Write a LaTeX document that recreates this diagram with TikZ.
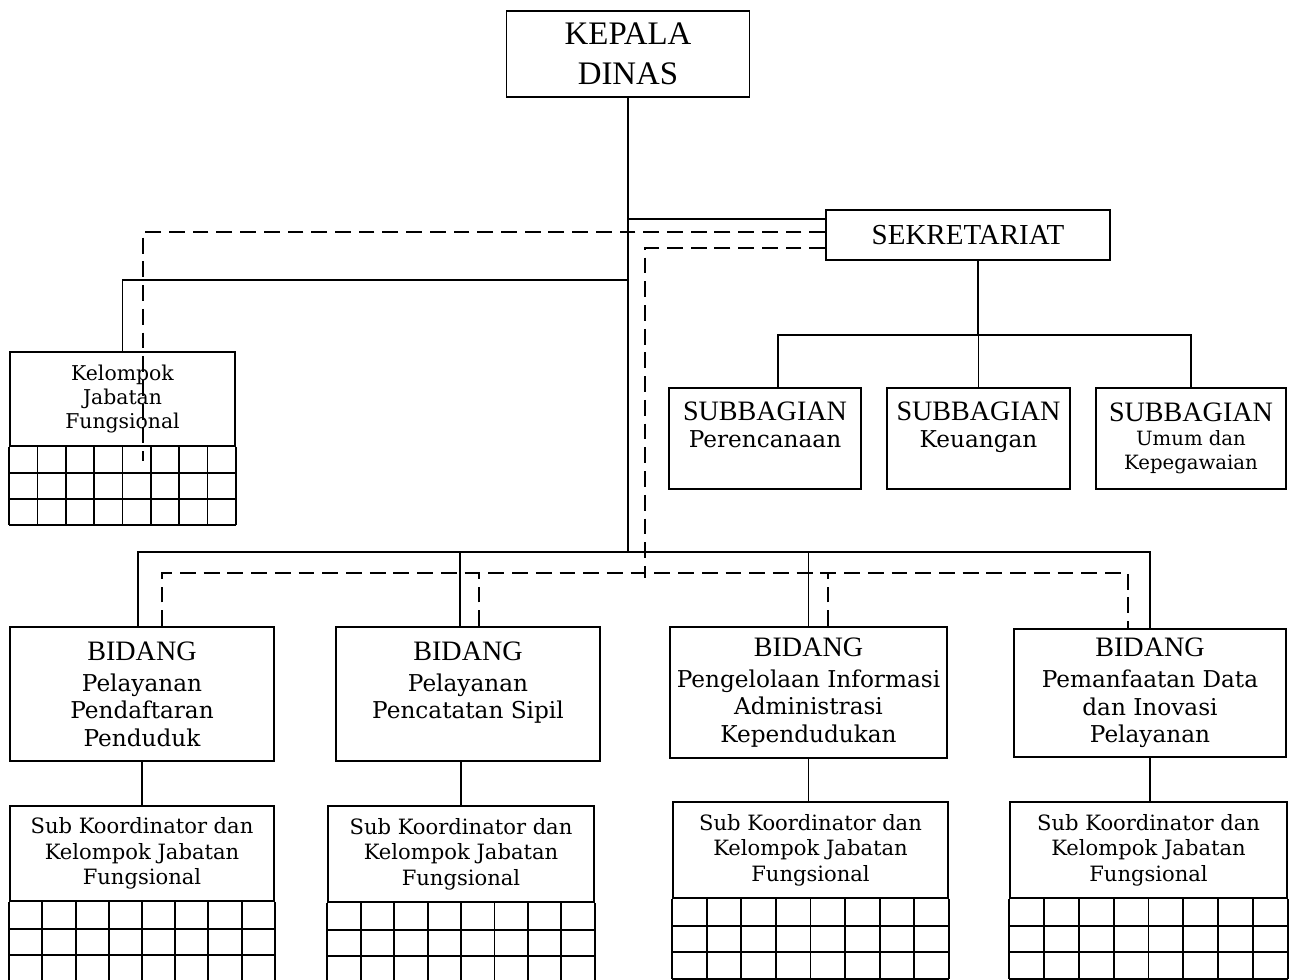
\documentclass[tikz,border=0pt]{standalone}
\usepackage{fontspec}
\setmainfont{Liberation Serif}
\newfontfamily\bookfont{DejaVu Serif}
\usetikzlibrary{positioning, calc}
\newcommand{\headfont}{\fontsize{18.7}{22.7}\selectfont}
\newcommand{\sekfont}{\fontsize{16.5}{19}\selectfont}
\newcommand{\capsfont}{\fontsize{16}{19}\selectfont}
\newcommand{\unitfont}{\bookfont\fontsize{13.2}{15.6}\selectfont}
\newcommand{\smallunitfont}{\bookfont\fontsize{11.2}{13.5}\selectfont}
\newcommand{\groupfont}{\bookfont\fontsize{12}{14.6}\selectfont}
\newcommand{\kjffont}{\bookfont\fontsize{11.6}{13.9}\selectfont}
\tikzstyle{unit} = [rectangle, draw=black, line width=1pt, align=center, inner sep=0pt, text centered]
\tikzstyle{link} = [line width=1pt]
\tikzstyle{staff} = [line width=1pt, dash pattern=on 9pt off 4.5pt]
\tikzstyle{gridline} = [line width=1.1pt]

\begin{document}
\begin{tikzpicture}[x=0.02cm, y=-0.02cm]
\useasboundingbox (0,0) rectangle (1289,980);

% head and secretariat
\node (kepala) [unit, minimum width=4.86cm, minimum height=1.72cm, font=\headfont] at (628,54) {KEPALA\\DINAS};
\node (sek) [unit, minimum width=5.68cm, minimum height=1.0cm, font=\sekfont] at (968,235) {SEKRETARIAT};

% subbagian row
\node (sb1) [unit, minimum width=3.84cm, minimum height=2.02cm, font=\unitfont] at (765,438.5) {{\capsfont\rmfamily SUBBAGIAN}\\Perencanaan\\\mbox{}};
\node (sb2) [unit, minimum width=3.66cm, minimum height=2.02cm, font=\unitfont] at (978.5,438.5) {{\capsfont\rmfamily SUBBAGIAN}\\Keuangan\\\mbox{}};
\node (sb3) [unit, minimum width=3.8cm, minimum height=2.02cm, font=\smallunitfont] at (1191,438.5) {{\capsfont\rmfamily SUBBAGIAN}\\Umum dan\\Kepegawaian};

% functional group
\node (kjf) [unit, minimum width=4.5cm, minimum height=1.88cm, font=\kjffont] at (122.5,399) {Kelompok\\Jabatan\\Fungsional};

% bidang row
\node (bid1) [unit, minimum width=5.28cm, minimum height=2.68cm, font=\unitfont] at (142,694) {{\capsfont\rmfamily BIDANG}\\[2pt]Pelayanan\\Pendaftaran\\Penduduk};
\node (bid2) [unit, minimum width=5.28cm, minimum height=2.68cm, font=\unitfont] at (468,694) {{\capsfont\rmfamily BIDANG}\\[2pt]Pelayanan\\Pencatatan Sipil\\\mbox{}};
\node (bid3) [unit, minimum width=5.54cm, minimum height=2.62cm, font=\unitfont] at (808.5,692.5) {{\capsfont\rmfamily BIDANG}\\[2pt]Pengelolaan Informasi\\Administrasi\\Kependudukan};
\node (bid4) [unit, minimum width=5.44cm, minimum height=2.56cm, font=\unitfont] at (1150,693) {{\capsfont\rmfamily BIDANG}\\[2pt]Pemanfaatan Data\\dan Inovasi\\Pelayanan};

% sub koordinator boxes
\node (sub1) [unit, minimum width=5.28cm, minimum height=1.9cm, font=\groupfont] at (142,853.5) {Sub Koordinator dan\\Kelompok Jabatan\\Fungsional};
\node (sub2) [unit, minimum width=5.32cm, minimum height=1.92cm, font=\groupfont] at (461,854) {Sub Koordinator dan\\Kelompok Jabatan\\Fungsional};
\node (sub3) [unit, minimum width=5.5cm, minimum height=1.92cm, font=\groupfont] at (810.5,850) {Sub Koordinator dan\\Kelompok Jabatan\\Fungsional};
\node (sub4) [unit, minimum width=5.54cm, minimum height=1.92cm, font=\groupfont] at (1148.5,850) {Sub Koordinator dan\\Kelompok Jabatan\\Fungsional};

% grids under the groups
\foreach \g/\d in {kjf/78, sub1/80, sub2/80, sub3/80, sub4/80} {
  \foreach \i in {0,...,8}
    \draw [gridline] ($(\g.south west)!\i/8!(\g.south east)$) -- ++(0,\d);
  \foreach \j in {1,2,3}
    \draw [gridline] ($(\g.south west)+(0,\j*\d/3)$) -- ($(\g.south east)+(0,\j*\d/3)$);
}

\coordinate (hub) at (628,552);
\coordinate (split) at (628,280);
\coordinate (dhub) at (645,573);
\coordinate (sbus) at (978,335);

% solid lines (command)
\draw [link] (kepala.south) -- (hub);
\draw [link] ([yshift=0.32cm]sek.west) -- ([yshift=0.32cm]sek.west -| hub);
\draw [link] (split) -| (kjf.north);
\draw [link] ([xshift=-0.08cm]bid1.north) |- (hub) -| (bid4.north);
\draw [link] ([xshift=-0.16cm]bid2.north) -- ([xshift=-0.16cm]bid2.north |- hub);
\draw [link] (bid3.north) -- (bid3.north |- hub);
\draw [link] (sbus |- sek.south) -- (sbus);
\draw [link] ([xshift=0.26cm]sb1.north) |- (sbus) -| (sb3.north);
\draw [link] (sb2.north) -- (sb2.north |- sbus);
\draw [link] (bid1.south) -- (sub1.north);
\draw [link] (sub2.north) -- (sub2.north |- bid2.south);
\draw [link] (bid3.south) -- (bid3.south |- sub3.north);
\draw [link] (bid4.south) -- (bid4.south |- sub4.north);

% dashed lines (coordination)
\draw [staff] ([yshift=0.06cm]sek.west) -| ([xshift=0.41cm]kjf.north) -- ++(0,110);
\draw [staff] ([yshift=-0.26cm]sek.west) -| ([yshift=-0.1cm]dhub);
\draw [staff] ([xshift=0.4cm]bid1.north) |- (dhub) -| ([xshift=-0.44cm]bid4.north);
\draw [staff] ([xshift=0.22cm]bid2.north) -- ([xshift=0.22cm]bid2.north |- dhub);
\draw [staff] ([xshift=0.39cm]bid3.north) -- ([xshift=0.39cm]bid3.north |- dhub);

\end{tikzpicture}
\end{document}
